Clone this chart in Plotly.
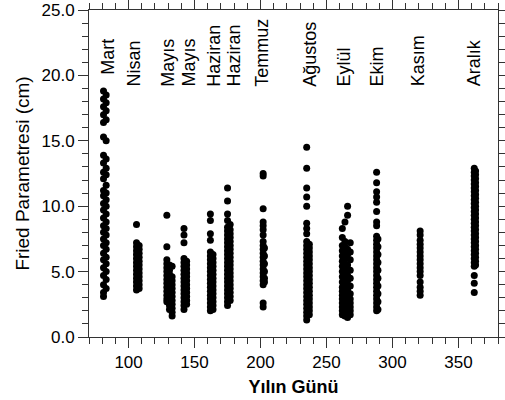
import plotly.graph_objects as go

# ---- data: day of year -> Fried parameter values (cm) ----
mart_81 = [18.8, 18.2, 17.6, 17.0, 16.4, 15.3, 13.9, 13.3, 12.6, 12.1, 11.2, 10.8, 10.2, 9.7, 9.1, 8.5, 8.0, 7.5, 7.0, 6.4, 5.9, 5.3, 4.7, 4.0, 3.4, 3.1]
mart_83 = [18.5, 17.9, 17.3, 16.6, 15.0, 13.6, 12.9, 12.4, 11.6, 11.0, 10.5, 10.0, 9.4, 8.8, 8.3, 7.8, 7.2, 6.7, 6.1, 5.6, 5.0, 4.4, 3.7]
nisan_106 = [8.6, 7.2, 6.9, 6.6, 6.3, 6.0, 5.7, 5.4, 5.1, 4.8, 4.5, 4.2, 3.9, 3.6]
nisan_108 = [7.0, 6.7, 6.4, 6.1, 5.8, 5.5, 5.2, 4.9, 4.6, 4.3, 4.0, 3.7]
mayis_129 = [9.3, 6.9, 5.9, 5.6, 5.3, 5.0, 4.7, 4.4, 4.1, 3.8, 3.5, 3.2, 2.9, 2.7]
mayis_131 = [5.5, 5.1, 4.8, 4.5, 4.2, 3.9, 3.6, 3.3, 3.0, 2.7, 2.4, 2.1]
mayis_133 = [5.4, 4.6, 4.3, 4.0, 3.7, 3.4, 3.1, 2.8, 2.5, 2.2, 1.9, 1.6]
mayis_142 = [8.3, 7.8, 7.2, 6.0, 5.7, 5.4, 5.1, 4.8, 4.5, 4.2, 3.9, 3.6, 3.3, 3.0, 2.7, 2.4, 2.1]
mayis_144 = [5.8, 5.5, 5.2, 4.9, 4.6, 4.3, 4.0, 3.7, 3.4, 3.1, 2.8, 2.5]
haziran_162 = [9.4, 8.9, 7.9, 7.4, 6.5, 6.2, 5.9, 5.6, 5.3, 5.0, 4.7, 4.4, 4.1, 3.8, 3.5, 3.2, 2.9, 2.6, 2.3, 2.0]
haziran_164 = [6.3, 6.0, 5.7, 5.4, 5.1, 4.8, 4.5, 4.2, 3.9, 3.6, 3.3, 3.0, 2.7, 2.4, 2.1]
haziran_175 = [11.4, 10.4, 9.4, 8.9, 8.4, 8.1, 7.8, 7.5, 7.2, 6.9, 6.6, 6.3, 6.0, 5.7, 5.4, 5.1, 4.8, 4.5, 4.2, 3.9, 3.6, 3.3, 3.0, 2.7, 2.4]
haziran_177 = [8.6, 8.2, 7.9, 7.6, 7.3, 7.0, 6.7, 6.4, 6.1, 5.8, 5.5, 5.2, 4.9, 4.6, 4.3, 4.0, 3.7, 3.4, 3.1, 2.8]
temmuz_202 = [12.5, 12.3, 9.8, 8.8, 8.5, 8.2, 7.8, 7.3, 7.0, 6.7, 6.4, 6.1, 5.8, 5.5, 5.2, 4.9, 4.6, 4.3, 4.0, 2.6, 2.3]
temmuz_203 = [6.8, 6.2, 5.6, 5.0, 4.5, 4.2]
agustos_235 = [14.5, 12.9, 11.4, 10.7, 10.0, 8.7, 8.3, 7.9, 7.3, 7.0, 6.7, 6.4, 6.1, 5.8, 5.5, 5.2, 4.9, 4.6, 4.3, 4.0, 3.7, 3.4, 3.1, 2.8, 2.5, 2.2, 1.9, 1.6, 1.3]
agustos_237 = [7.1, 6.8, 6.5, 6.2, 5.9, 5.6, 5.3, 5.0, 4.7, 4.4, 4.1, 3.8, 3.5, 3.2, 2.9, 2.6, 2.3, 2.0, 1.7]
eylul_262 = [8.3, 7.6, 7.0, 6.6, 6.2, 5.8, 5.4, 5.0, 4.6, 4.2, 3.8, 3.5, 3.2, 2.9, 2.6, 2.3, 2.0, 1.7]
eylul_264 = [8.8, 7.3, 6.9, 6.4, 6.0, 5.6, 5.2, 4.8, 4.4, 4.0, 3.7, 3.4, 3.1, 2.8, 2.5, 2.2, 1.9, 1.6]
eylul_266 = [10.0, 9.3, 6.7, 6.3, 5.5, 4.7, 4.3, 3.9, 3.6, 3.3, 3.0, 2.7, 2.4, 2.1, 1.8, 1.5]
eylul_268 = [7.2, 6.5, 5.9, 5.1, 4.5, 3.9, 3.3, 2.9, 2.6, 2.3, 2.0, 1.7]
ekim_288 = [12.6, 11.8, 11.1, 10.7, 10.3, 9.6, 8.8, 8.5, 7.7, 7.4, 7.1, 6.8, 6.5, 6.2, 5.9, 5.6, 5.3, 5.0, 4.7, 4.4, 4.1, 3.8, 3.5, 3.2, 2.9, 2.6, 2.3, 2.0]
ekim_289 = [7.5, 6.9, 6.3, 5.7, 5.1, 4.5, 3.9, 3.3, 2.7, 2.1]
kasim_321 = [8.1, 7.8, 7.4, 7.1, 6.8, 6.5, 6.2, 5.9, 5.6, 5.3, 5.0, 4.7, 4.2, 3.8, 3.5, 3.2]
aralik_362 = [12.9, 12.6, 12.3, 12.0, 11.7, 11.4, 11.1, 10.8, 10.5, 10.2, 9.9, 9.6, 9.3, 9.0, 8.7, 8.4, 8.1, 7.8, 7.5, 7.2, 6.9, 6.6, 6.3, 6.0, 5.7, 5.4, 4.7, 4.1, 3.4]
aralik_363 = [12.7, 12.4, 12.1, 11.8, 11.5, 11.2, 10.9, 10.6, 10.3, 10.0, 9.7, 9.4, 9.1, 8.8, 8.5, 8.2, 7.9, 7.6, 7.3, 7.0, 6.7, 6.4, 6.1, 5.8, 5.5]

series = [
    (81, mart_81), (83, mart_83),
    (106, nisan_106), (108, nisan_108),
    (129, mayis_129), (131, mayis_131), (133, mayis_133),
    (142, mayis_142), (144, mayis_144),
    (162, haziran_162), (164, haziran_164),
    (175, haziran_175), (177, haziran_177),
    (202, temmuz_202), (203, temmuz_203),
    (235, agustos_235), (237, agustos_237),
    (262, eylul_262), (264, eylul_264), (266, eylul_266), (268, eylul_268),
    (288, ekim_288), (289, ekim_289),
    (321, kasim_321),
    (362, aralik_362), (363, aralik_363),
]

month_labels = ["Mart", "Nisan", "Mayıs", "Mayıs", "Haziran", "Haziran", "Temmuz",
                "Ağustos", "Eylül", "Ekim", "Kasım", "Aralık"]
label_days = [84.5, 104.8, 130, 146.5, 165, 180.6, 201.4, 237.4, 263, 289, 319.6, 362]
label_base = [19.9, 19.0, 19.0, 19.0, 19.0, 19.0, 19.0, 19.0, 19.0, 19.0, 19.0, 19.0]

x_range = [70, 380]
y_range = [0, 25]

xs, ys = [], []
for day, vals in series:
    xs += [day] * len(vals)
    ys += vals

FONT = "Liberation Sans, Arial, sans-serif"
AX = "#333333"

fig = go.Figure()
fig.add_trace(go.Scatter(x=xs, y=ys, mode="markers",
                         marker=dict(color="black", size=7, line=dict(width=0)),
                         showlegend=False, hoverinfo="skip"))
# transparent copy bound to the top/right axes so their ticks get drawn
fig.add_trace(go.Scatter(x=xs, y=ys, xaxis="x2", yaxis="y2", mode="markers",
                         marker=dict(color="rgba(0,0,0,0)", size=1),
                         showlegend=False, hoverinfo="skip"))

for lab, d, b in zip(month_labels, label_days, label_base):
    fig.add_annotation(x=d, y=b, text=lab, textangle=-90, showarrow=False,
                       xanchor="center", yanchor="bottom",
                       font=dict(family=FONT, size=18, color="black"))

axis_common = dict(showline=True, linecolor=AX, linewidth=1, mirror=True,
                   ticks="outside", tickcolor=AX, ticklen=10, tickwidth=1,
                   showgrid=False, zeroline=False, automargin=False,
                   tickfont=dict(family=FONT, size=17, color="black"))
xminor = dict(dtick=10, ticks="outside", ticklen=6, tickcolor=AX, tickwidth=1, showgrid=False)
yminor = dict(dtick=1, ticks="outside", ticklen=6, tickcolor=AX, tickwidth=1, showgrid=False)

fig.update_layout(
    width=505, height=400, margin=dict(l=89, r=7, t=10, b=63),
    plot_bgcolor="white", paper_bgcolor="white",
    xaxis=dict(range=x_range, tick0=0, dtick=50, minor=xminor,
               title=dict(text="<b>Yılın Günü</b>", font=dict(family=FONT, size=18, color="black"), standoff=8),
               **axis_common),
    yaxis=dict(range=y_range, tick0=0, dtick=5, tickformat=".1f", minor=yminor,
               title=dict(text="Fried Parametresi (cm)", font=dict(family=FONT, size=19, color="black"), standoff=6),
               **axis_common),
    xaxis2=dict(range=x_range, tick0=0, dtick=50, minor=xminor, overlaying="x", side="top",
                anchor="y2", showticklabels=False, **axis_common),
    yaxis2=dict(range=y_range, tick0=0, dtick=5, minor=yminor, overlaying="y", side="right",
                anchor="x2", showticklabels=False, **axis_common),
)

fig.write_html("out.html", config={"displayModeBar": False},
               post_script="document.body.style.margin='0';")
